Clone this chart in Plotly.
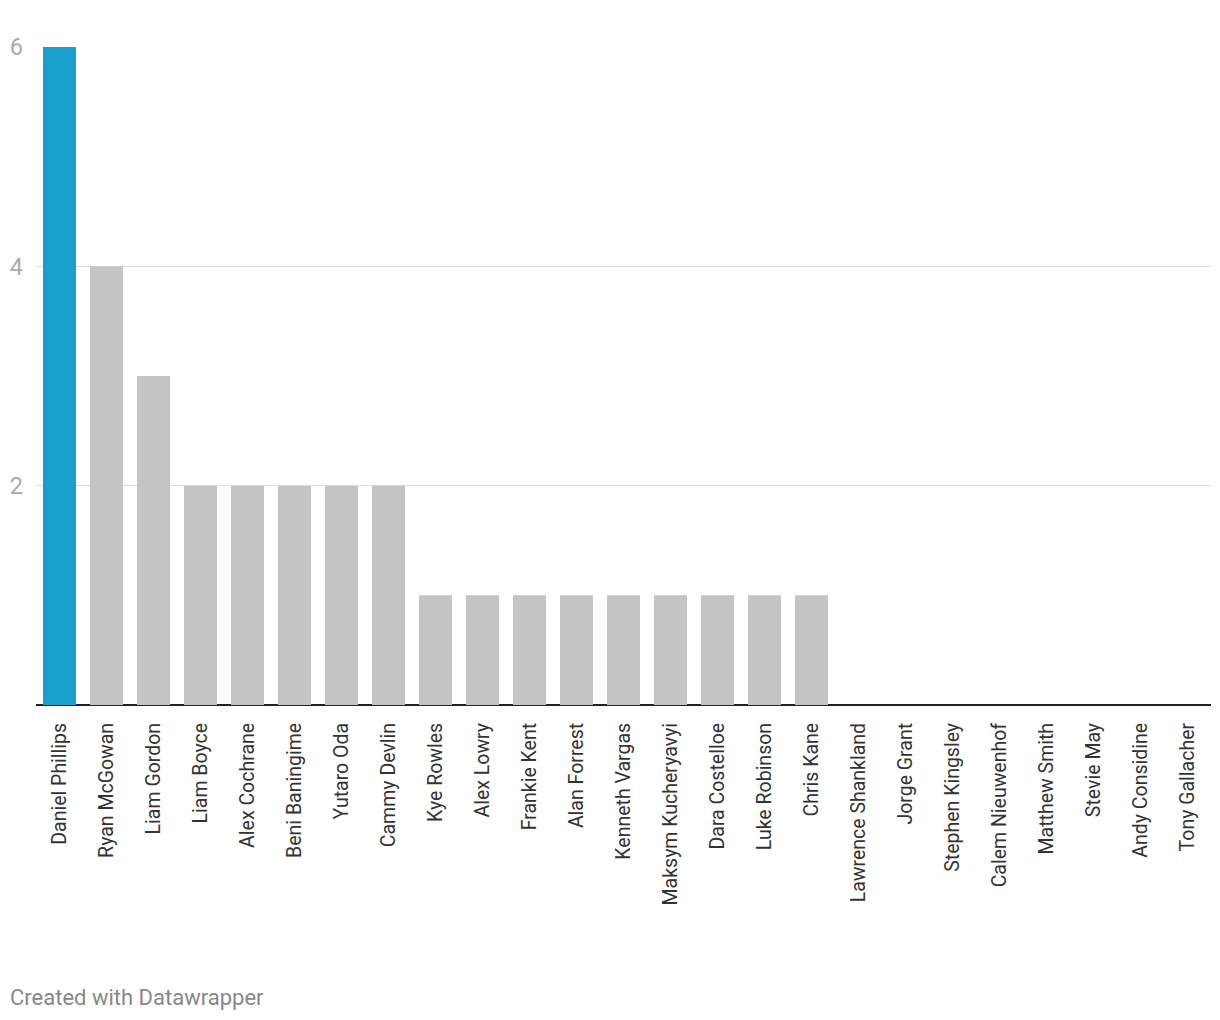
import plotly.graph_objects as go

players = ["Daniel Phillips", "Ryan McGowan", "Liam Gordon", "Liam Boyce", "Alex Cochrane",
           "Beni Baningime", "Yutaro Oda", "Cammy Devlin", "Kye Rowles", "Alex Lowry",
           "Frankie Kent", "Alan Forrest", "Kenneth Vargas", "Maksym Kucheryavyi",
           "Dara Costelloe", "Luke Robinson", "Chris Kane", "Lawrence Shankland",
           "Jorge Grant", "Stephen Kingsley", "Calem Nieuwenhof", "Matthew Smith",
           "Stevie May", "Andy Considine", "Tony Gallacher"]
values = [6, 4, 3, 2, 2, 2, 2, 2, 1, 1, 1, 1, 1, 1, 1, 1, 1, 0, 0, 0, 0, 0, 0, 0, 0]
y_ticks = [2, 4, 6]

colors = ["#18a1cd" if i == 0 else "#c4c4c4" for i in range(len(players))]

fig = go.Figure(go.Bar(x=players, y=values, marker=dict(color=colors, line=dict(width=0)),
                       hoverinfo="x+y"))

fig.update_layout(
    width=1220, height=1020,
    margin=dict(l=36, r=9, t=47, b=315),
    paper_bgcolor="white", plot_bgcolor="white",
    bargap=0.298,
    showlegend=False,
    font=dict(family="Roboto", color="#333333"),
    xaxis=dict(
        tickangle=-90, tickfont=dict(size=19.5, color="#333333", family="Roboto"),
        showgrid=False, showline=False, ticks="", ticklabelstandoff=13,
        range=[-0.5, len(players) - 0.5],
    ),
    yaxis=dict(
        range=[0, 6], tickvals=y_ticks, ticktext=[str(v) for v in y_ticks],
        tickfont=dict(size=23.5, color="#aaaaaa", family="Roboto"),
        showgrid=True, gridcolor="#e0e0e0", gridwidth=1,
        zeroline=True, zerolinecolor="#222222", zerolinewidth=2,
        showline=False, ticks="", ticklabelstandoff=12,
    ),
    annotations=[dict(
        text="Created with Datawrapper", xref="paper", yref="paper",
        x=0, y=0, xanchor="left", yanchor="middle", showarrow=False,
        xshift=-28, yshift=-292,
        font=dict(size=22, color="#888888", family="Roboto"),
    )],
)

fig.write_html("out.html")
